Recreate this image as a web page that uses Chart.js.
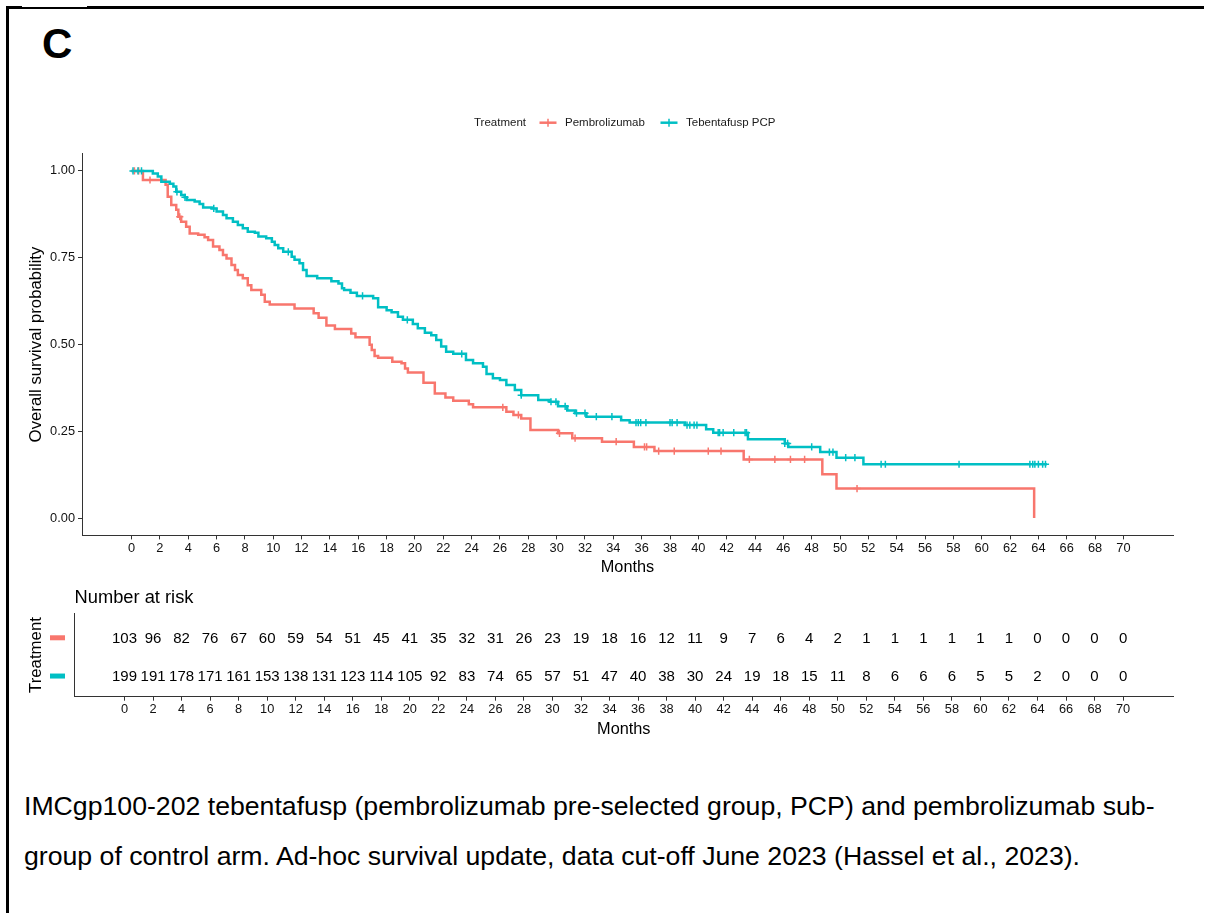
<!DOCTYPE html>
<html>
<head>
<meta charset="utf-8">
<script src="https://cdn.jsdelivr.net/npm/chart.js@4.4.0/dist/chart.umd.min.js"></script>
<style>
  html, body { margin: 0; padding: 0; background: #fff; }
  body { width: 1205px; height: 913px; position: relative; overflow: hidden;
         font-family: "Liberation Sans", Arial, Helvetica, sans-serif; }
  #frameTop { position: absolute; left: 6px; top: 6px; width: 1198px; height: 3px; background: #000; }
  #frameNotch { position: absolute; left: 22px; top: 6px; width: 65px; height: 1px; background: #fff; }
  #frameLeft { position: absolute; left: 6px; top: 6px; width: 3px; height: 907px; background: #000; }
  #panel { position: absolute; left: 42px; top: 23px; font-size: 42px; line-height: 42px; font-weight: bold; color: #000; }
  #caption { position: absolute; left: 24px; top: 781px; font-size: 26.67px; line-height: 50px; color: #000; white-space: nowrap; }
  canvas { position: absolute; left: 0; }
  #km { top: 95px; }
  #risk { top: 585px; }
</style>
</head>
<body>
<div id="frameTop"></div>
<div id="frameNotch"></div>
<div id="frameLeft"></div>
<div id="panel">C</div>
<canvas id="km" width="1205" height="495" style="width:1205px;height:495px"></canvas>
<canvas id="risk" width="1205" height="165" style="width:1205px;height:165px"></canvas>
<div id="caption">IMCgp100-202 tebentafusp (pembrolizumab pre-selected group, PCP) and pembrolizumab sub-<br>group of control arm. Ad-hoc survival update, data cut-off June 2023 (Hassel et al., 2023).</div>

<script>
// ---------------- data ----------------
const seriesNames = ['Pembrolizumab', 'Tebentafusp PCP'];

// Kaplan-Meier steps: event times (months) and survival after each drop
const pembroTimes = [0, 0.8, 2.4, 2.55, 2.8, 3.15, 3.3, 3.5, 3.85, 4.1, 4.7, 5.15, 5.4, 5.75, 6.2,
  6.45, 6.7, 7.05, 7.3, 7.5, 7.85, 8.2, 8.45, 9.15, 9.4, 9.75, 11.5, 12.85, 13.2, 13.75,
  14.35, 15.5, 15.8, 16.8, 16.95, 17.15, 17.4, 18.4, 19.05, 19.3, 19.5, 20.6, 21.4, 22.15, 22.7,
  23.8, 24.1, 26.45, 26.95, 27.5, 28.15, 30.1, 31.1, 33.2, 35.45, 36.9, 43.2, 48.75, 49.75, 63.7];
const pembroSurv = [1.0, 0.974, 0.960, 0.926, 0.902, 0.888, 0.868, 0.854, 0.839, 0.820, 0.816, 0.809, 0.801, 0.782, 0.772,
  0.758, 0.748, 0.729, 0.715, 0.700, 0.691, 0.671, 0.657, 0.643, 0.623, 0.615, 0.604, 0.590, 0.577, 0.555,
  0.545, 0.532, 0.521, 0.499, 0.484, 0.467, 0.462, 0.450, 0.446, 0.431, 0.419, 0.390, 0.359, 0.347, 0.338,
  0.328, 0.319, 0.306, 0.297, 0.287, 0.254, 0.244, 0.230, 0.220, 0.205, 0.193, 0.169, 0.126, 0.085, 0.0];
const pembroCensor = [0.2, 0.5, 1.3, 3.4, 26.2, 27.3, 30.2, 31.3, 34.2, 36.2, 36.35, 37.2, 38.3,
  40.7, 41.6, 43.6, 45.4, 46.5, 47.5, 51.2];
const pembroEnd = 63.7;

const tebenTimes = [0, 1.5, 1.85, 2.1, 2.7, 2.95, 3.15, 3.5, 3.75, 3.9, 4.45, 4.8, 5.05, 5.65, 6.0,
  6.45, 6.7, 7.15, 7.5, 7.85, 8.2, 8.7, 8.95, 9.5, 9.9, 10.1, 10.35, 10.7, 11.3, 11.5,
  11.85, 12.1, 12.35, 13.1, 14.1, 14.6, 14.85, 15.0, 15.45, 15.9, 17.05, 17.4, 18.0, 18.35, 18.8,
  19.15, 19.85, 20.2, 20.7, 21.15, 21.5, 21.85, 22.2, 22.7, 23.6, 24.1, 24.8, 25.05, 25.5, 26.0,
  26.45, 27.05, 27.5, 28.7, 29.5, 30.1, 30.75, 31.3, 32.1, 34.55, 35.15, 39.05, 40.55, 41.05, 43.5,
  46.1, 46.35, 48.6, 49.75, 51.65];
const tebenSurv = [1.0, 0.993, 0.984, 0.969, 0.963, 0.955, 0.940, 0.931, 0.924, 0.916, 0.912, 0.905, 0.895, 0.892, 0.883,
  0.873, 0.864, 0.854, 0.844, 0.835, 0.825, 0.822, 0.811, 0.806, 0.796, 0.787, 0.777, 0.767, 0.753, 0.744,
  0.734, 0.715, 0.697, 0.691, 0.682, 0.676, 0.662, 0.657, 0.649, 0.640, 0.633, 0.607, 0.599, 0.593, 0.580,
  0.571, 0.559, 0.547, 0.534, 0.527, 0.513, 0.494, 0.479, 0.473, 0.455, 0.446, 0.436, 0.415, 0.403, 0.398,
  0.383, 0.369, 0.354, 0.340, 0.335, 0.322, 0.310, 0.302, 0.292, 0.282, 0.275, 0.268, 0.256, 0.246, 0.227,
  0.215, 0.205, 0.190, 0.174, 0.155];
const tebenCensor = [0.1, 0.45, 0.7, 3.2, 3.77, 5.8, 11.06, 16.3, 19.46, 23.3, 27.5, 29.6, 29.95, 30.6,
  31.4, 32.0, 32.8, 33.9, 35.6, 35.76, 35.93, 36.3, 38.0, 38.15, 38.5, 39.2, 39.4, 39.7, 39.9,
  41.4, 41.5, 41.75, 42.5, 43.3, 43.4, 46.1, 46.3, 48.0, 49.25, 49.5, 50.4, 51.05, 52.9, 53.2,
  58.4, 63.4, 63.6, 63.75, 64.0, 64.3, 64.5];
const tebenEnd = 64.6;

// axis ticks
const xTickValues = [0, 2, 4, 6, 8, 10, 12, 14, 16, 18, 20, 22, 24, 26, 28, 30, 32, 34, 36, 38, 40,
  42, 44, 46, 48, 50, 52, 54, 56, 58, 60, 62, 64, 66, 68, 70];
const yTickValues = [0, 0.25, 0.5, 0.75, 1.0];
const yTickLabels = ['0.00', '0.25', '0.50', '0.75', '1.00'];

// number at risk table
const riskTimes = [0, 2, 4, 6, 8, 10, 12, 14, 16, 18, 20, 22, 24, 26, 28, 30, 32, 34, 36, 38, 40,
  42, 44, 46, 48, 50, 52, 54, 56, 58, 60, 62, 64, 66, 68, 70];
const riskPembro = [103, 96, 82, 76, 67, 60, 59, 54, 51, 45, 41, 35, 32, 31, 26, 23, 19, 18, 16, 12, 11,
  9, 7, 6, 4, 2, 1, 1, 1, 1, 1, 1, 0, 0, 0, 0];
const riskTeben = [199, 191, 178, 171, 161, 153, 138, 131, 123, 114, 105, 92, 83, 74, 65, 57, 51, 47, 40, 38, 30,
  24, 19, 18, 15, 11, 8, 6, 6, 6, 5, 5, 2, 0, 0, 0];

// ---------------- helpers ----------------
const FONT = '"Liberation Sans", Arial, Helvetica, sans-serif';
const RED = '#F8766D';
const TEAL = '#00BFC4';
const AXIS = '#333333';

function stepPoints(times, surv, end) {
  const pts = times.map((t, i) => ({ x: t, y: surv[i] }));
  if (end > times[times.length - 1]) pts.push({ x: end, y: surv[surv.length - 1] });
  return pts;
}
function survAt(times, surv, t) {
  let s = surv[0];
  for (let i = 0; i < times.length; i++) if (times[i] <= t) s = surv[i];
  return s;
}
function censorPoints(censor, times, surv) {
  return censor.map(t => ({ x: t, y: survAt(times, surv, t) }));
}

const xScaleBase = (height, titleBottom) => ({
  type: 'linear', min: -3.5, max: 73.5,
  afterBuildTicks: s => { s.ticks = xTickValues.map(v => ({ value: v })); },
  afterFit: s => { s.height = height; },
  grid: { drawOnChartArea: false, drawTicks: true, tickLength: 4, color: AXIS, lineWidth: 1 },
  border: { display: true, color: AXIS, width: 1 },
  ticks: { autoSkip: false, maxRotation: 0, minRotation: 0, padding: 2.5, color: '#111',
           font: { family: FONT, size: 12.8, lineHeight: 1 },
           callback: (v) => String(v) },
  title: { display: true, text: 'Months', color: '#000',
           font: { family: FONT, size: 16.3, lineHeight: 1.2 }, padding: { top: 0, bottom: titleBottom } }
});

// ---------------- legend plugin ----------------
const kmLegend = {
  id: 'kmLegend',
  afterDraw(chart) {
    const ctx = chart.ctx;
    const y = 27.7;
    ctx.save();
    ctx.font = '11.5px ' + FONT;
    ctx.fillStyle = '#1a1a1a';
    ctx.textBaseline = 'middle';
    ctx.textAlign = 'left';
    ctx.fillText('Treatment', 474, y);
    const items = [[RED, seriesNames[0], 539.5, 565], [TEAL, seriesNames[1], 660.5, 686]];
    items.forEach(([c, label, sx, tx]) => {
      ctx.strokeStyle = c;
      ctx.lineWidth = 2.5;
      ctx.beginPath(); ctx.moveTo(sx, y); ctx.lineTo(sx + 17, y); ctx.stroke();
      ctx.lineWidth = 1.5;
      ctx.beginPath(); ctx.moveTo(sx + 8.5, y - 4); ctx.lineTo(sx + 8.5, y + 4); ctx.stroke();
      ctx.fillText(label, tx, y);
    });
    ctx.restore();
  }
};

// ---------------- KM chart ----------------
new Chart(document.getElementById('km'), {
  type: 'line',
  data: {
    datasets: [
      { label: seriesNames[1] + ' censored', data: censorPoints(tebenCensor, tebenTimes, tebenSurv),
        showLine: false, pointStyle: 'cross', pointRadius: 3.6, pointBorderWidth: 1.5,
        borderColor: TEAL, backgroundColor: TEAL, order: 0 },
      { label: seriesNames[0] + ' censored', data: censorPoints(pembroCensor, pembroTimes, pembroSurv),
        showLine: false, pointStyle: 'cross', pointRadius: 3.6, pointBorderWidth: 1.5,
        borderColor: RED, backgroundColor: RED, order: 1 },
      { label: seriesNames[1], data: stepPoints(tebenTimes, tebenSurv, tebenEnd), stepped: true,
        borderColor: TEAL, borderWidth: 2.5, pointRadius: 0, fill: false, order: 2,
        borderCapStyle: 'butt', borderJoinStyle: 'miter' },
      { label: seriesNames[0], data: stepPoints(pembroTimes, pembroSurv, pembroEnd), stepped: true,
        borderColor: RED, borderWidth: 2.5, pointRadius: 0, fill: false, order: 3,
        borderCapStyle: 'butt', borderJoinStyle: 'miter' }
    ]
  },
  options: {
    responsive: false, animation: false, devicePixelRatio: 1,
    layout: { padding: { left: 0, right: 32, top: 58.6, bottom: 0 } },
    plugins: { legend: { display: false }, tooltip: { enabled: false }, title: { display: false } },
    scales: {
      x: xScaleBase(54.6, 13.2),
      y: {
        type: 'linear', min: -0.05, max: 1.05,
        afterBuildTicks: s => { s.ticks = yTickValues.map(v => ({ value: v })); },
        afterFit: s => { s.width = 82; },
        grid: { drawOnChartArea: false, drawTicks: true, tickLength: 4, color: AXIS, lineWidth: 1 },
        border: { display: true, color: AXIS, width: 1 },
        ticks: { padding: 3, color: '#111', font: { family: FONT, size: 12.8, lineHeight: 1 },
                 callback: (v, i) => yTickLabels[i] },
        title: { display: true, text: 'Overall survival probability', color: '#000',
                 font: { family: FONT, size: 16.8, lineHeight: 1.2 }, padding: { top: 26, bottom: 0 } }
      }
    }
  },
  plugins: [kmLegend]
});

// ---------------- risk table ----------------
const riskPlugin = {
  id: 'riskTable',
  afterDatasetsDraw(chart) {
    const ctx = chart.ctx;
    ctx.save();
    ctx.font = '15px ' + FONT;
    ctx.fillStyle = '#000';
    ctx.textAlign = 'center';
    ctx.textBaseline = 'middle';
    chart.data.datasets.forEach((ds, di) => {
      const meta = chart.getDatasetMeta(di);
      meta.data.forEach((pt, j) => ctx.fillText(String(ds.counts[j]), pt.x, pt.y + 1));
      const yRow = meta.data[0].y;
      ctx.fillStyle = ds.rowColor;
      ctx.fillRect(50, yRow - 2.5, 15, 5);
      ctx.fillStyle = '#000';
    });
    ctx.textAlign = 'left';
    ctx.font = '18.3px ' + FONT;
    ctx.fillText('Number at risk', chart.chartArea.left, 12.5);
    ctx.restore();
  }
};

new Chart(document.getElementById('risk'), {
  type: 'line',
  data: {
    datasets: [
      { label: seriesNames[0], data: riskTimes.map(t => ({ x: t, y: 1 })), counts: riskPembro,
        rowColor: RED, showLine: false, pointRadius: 0 },
      { label: seriesNames[1], data: riskTimes.map(t => ({ x: t, y: 2 })), counts: riskTeben,
        rowColor: TEAL, showLine: false, pointRadius: 0 }
    ]
  },
  options: {
    responsive: false, animation: false, devicePixelRatio: 1,
    layout: { padding: { left: 0, right: 32, top: 28.3, bottom: 0 } },
    plugins: { legend: { display: false }, tooltip: { enabled: false } },
    scales: {
      x: xScaleBase(53.3, 11.2),
      y: {
        type: 'linear', min: 0.36, max: 2.54, reverse: true,
        afterBuildTicks: s => { s.ticks = [{ value: 1 }, { value: 2 }]; },
        afterFit: s => { s.width = 74.6; },
        grid: { drawOnChartArea: false, drawTicks: false, color: AXIS },
        border: { display: true, color: AXIS, width: 1 },
        ticks: { callback: () => '' },
        title: { display: true, text: 'Treatment', color: '#000',
                 font: { family: FONT, size: 16.8, lineHeight: 1.2 }, padding: { top: 26, bottom: 0 } }
      }
    }
  },
  plugins: [riskPlugin]
});
</script>
</body>
</html>
